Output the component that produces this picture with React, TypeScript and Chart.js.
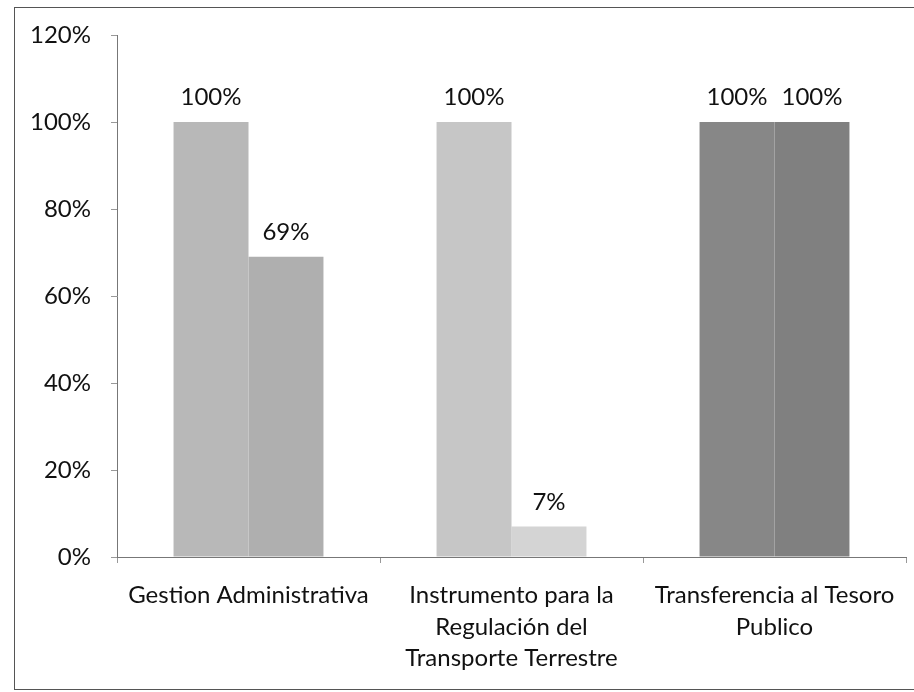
import React, { useEffect, useRef } from "react";
import { Chart, registerables } from "chart.js";

Chart.register(...registerables);

const categories: string[][] = [
  ["Gestion Administrativa"],
  ["Instrumento para la", "Regulación del", "Transporte Terrestre"],
  ["Transferencia al Tesoro", "Publico"],
];
const seriesA: number[] = [1.0, 1.0, 1.0];
const seriesB: number[] = [0.69, 0.07, 1.0];
const yMin = 0;
const yMax = 1.2;
const yStep = 0.2;

const colorsA = ["#b8b8b8", "#c6c6c6", "#878787"];
const colorsB = ["#afafaf", "#d4d4d4", "#808080"];

const FONT = "Lato, 'Open Sans', sans-serif";
const FONT_SIZE = 24;
const TEXT = "#111111";

const valueLabels = {
  id: "valueLabels",
  afterDatasetsDraw(chart: any) {
    const ctx = chart.ctx;
    ctx.save();
    ctx.font = `${FONT_SIZE}px ${FONT}`;
    ctx.fillStyle = TEXT;
    ctx.textAlign = "center";
    ctx.textBaseline = "alphabetic";
    chart.data.datasets.forEach((ds: any, i: number) => {
      const meta = chart.getDatasetMeta(i);
      meta.data.forEach((el: any, j: number) => {
        const v = ds.data[j];
        ctx.fillText(Math.round(v * 100) + "%", el.x, el.y - 17);
      });
    });
    ctx.restore();
  },
};

export default function App() {
  const ref = useRef<HTMLCanvasElement | null>(null);
  useEffect(() => {
    if (!ref.current) return;
    const chart = new Chart(ref.current, {
      type: "bar",
      data: {
        labels: categories,
        datasets: [
          { label: "A", data: seriesA, backgroundColor: colorsA, borderWidth: 0 },
          { label: "B", data: seriesB, backgroundColor: colorsB, borderWidth: 0 },
        ],
      },
      plugins: [valueLabels],
      options: {
        animation: false,
        responsive: true,
        maintainAspectRatio: false,
        layout: { padding: { top: 35, right: 8, left: 0, bottom: 0 } },
        datasets: { bar: { barPercentage: 1, categoryPercentage: 0.57 } },
        plugins: { legend: { display: false }, tooltip: { enabled: false } },
        scales: {
          x: {
            afterFit: (s: any) => {
              s.height = 135;
            },
            border: { display: true, color: "#777", width: 1 },
            grid: {
              display: true,
              drawOnChartArea: false,
              drawTicks: true,
              tickLength: 6,
              color: "#999",
              offset: true,
            },
            ticks: {
              color: TEXT,
              font: { family: FONT, size: FONT_SIZE, lineHeight: 1.3 },
              padding: 17,
              maxRotation: 0,
              autoSkip: false,
            },
          },
          y: {
            min: yMin,
            max: yMax,
            afterFit: (s: any) => {
              s.width = 117;
            },
            border: { display: true, color: "#777", width: 1 },
            grid: {
              display: true,
              drawOnChartArea: false,
              drawTicks: true,
              tickLength: 6,
              color: "#999",
            },
            ticks: {
              stepSize: yStep,
              color: TEXT,
              font: { family: FONT, size: FONT_SIZE },
              padding: 20,
              callback: (v: any) => Math.round(Number(v) * 100) + "%",
            },
          },
        },
      },
    });
    return () => chart.destroy();
  }, []);

  return (
    <div style={{ position: "fixed", left: 0, top: 0, width: 914, height: 692, background: "#fff" }}>
      <div
        style={{
          position: "absolute",
          left: 14,
          top: 7,
          width: 920,
          height: 681,
          borderLeft: "1px solid #555",
          borderTop: "1px solid #555",
          borderBottom: "1px solid #555",
        }}
      />
      <canvas ref={ref} style={{ position: "absolute", left: 0, top: 0 }} width={914} height={692} />
    </div>
  );
}
